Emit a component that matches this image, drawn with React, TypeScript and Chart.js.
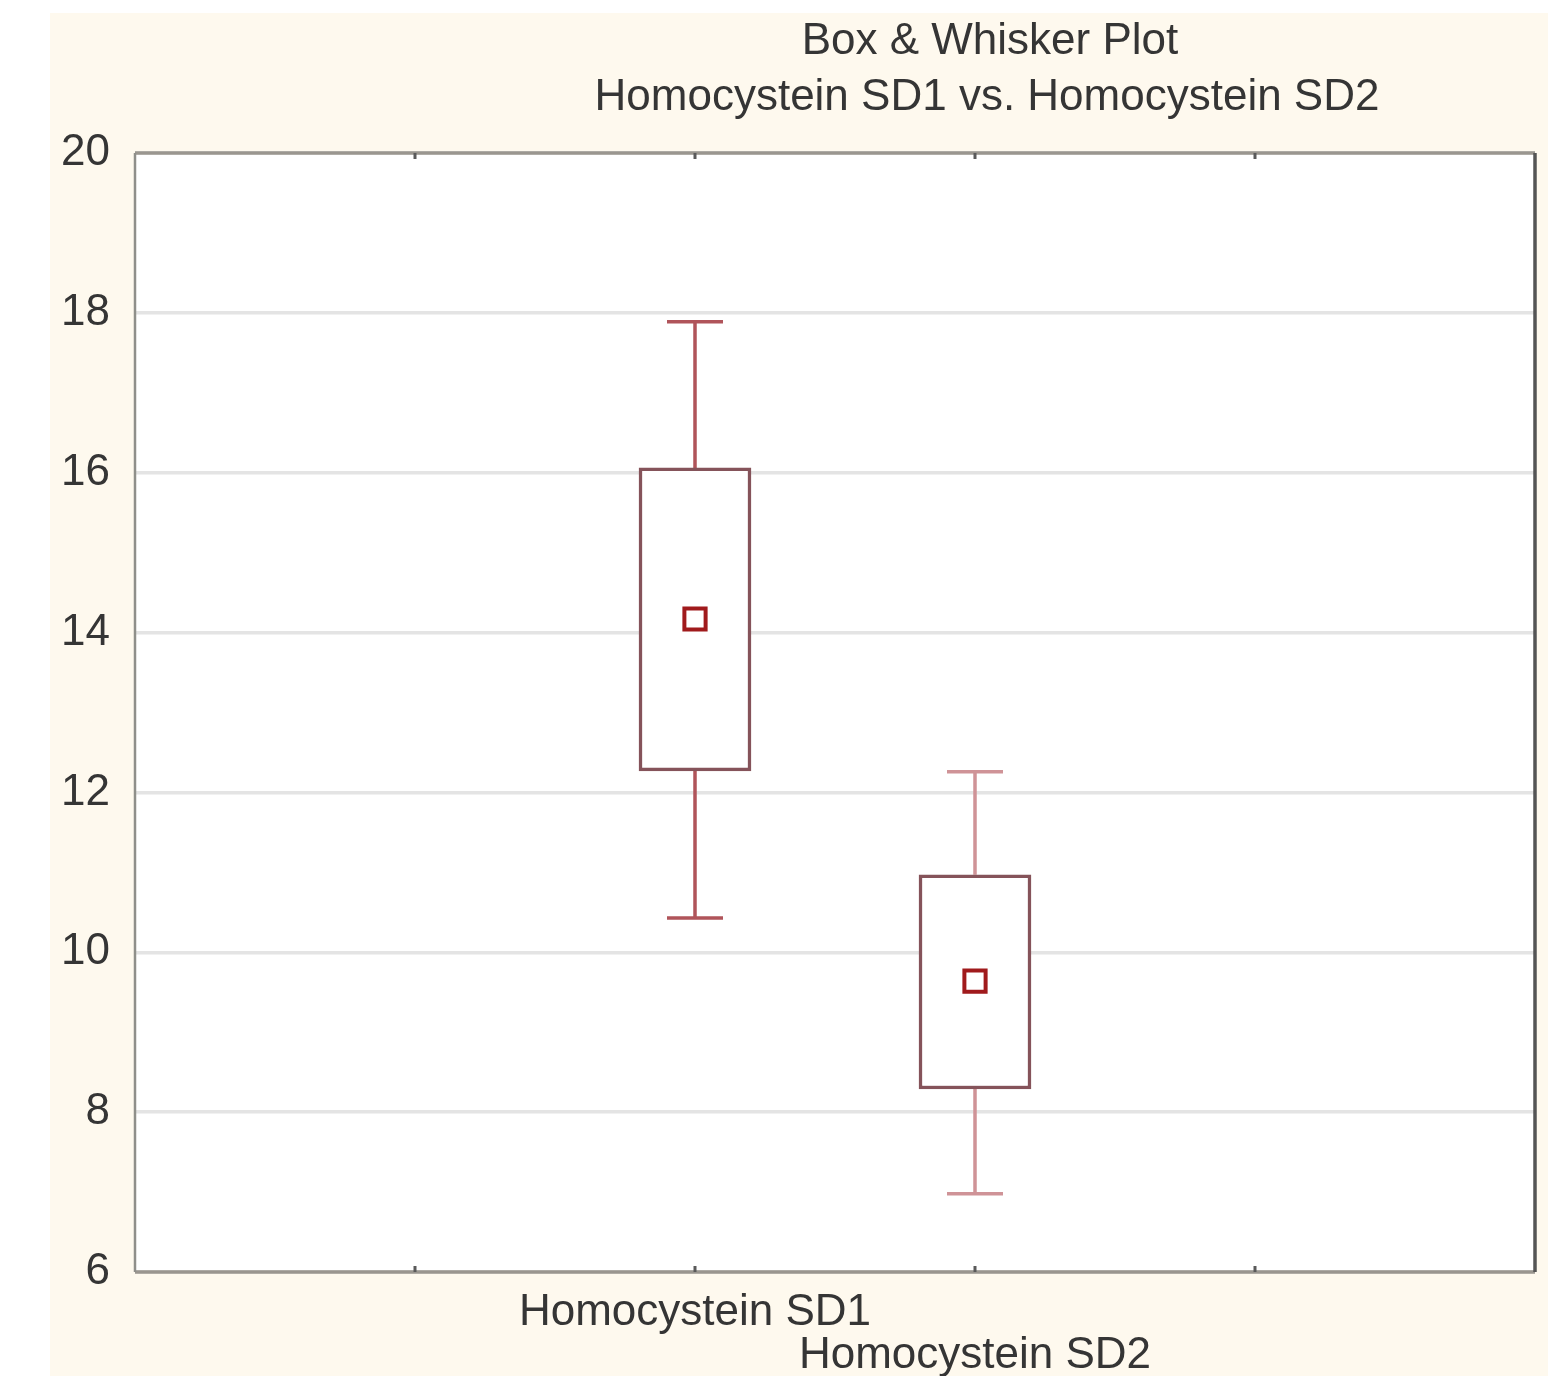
import React, { useEffect, useRef } from 'react';
import { Chart, registerables } from 'chart.js';

Chart.register(...registerables);

// ---- data ----
const categories = ['Homocystein SD1', 'Homocystein SD2'];
const categoryPositions = [2, 3];
const means = [14.17, 9.64];
const boxLow = [12.27, 8.29];
const boxHigh = [16.06, 10.97];
const whiskerLow = [10.43, 6.98];
const whiskerHigh = [17.89, 12.26];
const titleLines = ['Box & Whisker Plot', 'Homocystein SD1 vs. Homocystein SD2'];
const xMin = 0;
const xMax = 5;
const yMin = 6;
const yMax = 20;
const yStep = 2;

// ---- styles ----
const FONT = '"Liberation Sans", Arial, sans-serif';
const FONT_SIZE = 44;
const CREAM = '#fef9ee';
const TEXT = '#353535';
const whiskerColors = ['#b0545a', '#cf9397'];

const decorPlugin = {
  id: 'decor',
  beforeDraw(chart: any) {
    const { ctx, width, height, chartArea } = chart;
    ctx.save();
    ctx.fillStyle = '#ffffff';
    ctx.fillRect(0, 0, width, height);
    ctx.fillStyle = CREAM;
    ctx.fillRect(50, 13, 1498, height - 13);
    ctx.fillStyle = '#ffffff';
    ctx.fillRect(chartArea.left, chartArea.top, chartArea.right - chartArea.left, chartArea.bottom - chartArea.top);
    // title
    ctx.fillStyle = TEXT;
    ctx.font = `${FONT_SIZE}px ${FONT}`;
    ctx.textAlign = 'center';
    ctx.textBaseline = 'middle';
    ctx.fillText(titleLines[0], 990, 42);
    ctx.fillText(titleLines[1], 987, 98);
    ctx.restore();
  },
  beforeDatasetsDraw(chart: any) {
    const { ctx } = chart;
    const xs = chart.scales.x;
    const ys = chart.scales.y;
    ctx.save();
    ctx.lineWidth = 3.5;
    categoryPositions.forEach((pos, i) => {
      const x = xs.getPixelForValue(pos);
      const capHalf = 28;
      ctx.strokeStyle = whiskerColors[i];
      const yTop = ys.getPixelForValue(whiskerHigh[i]);
      const yBoxTop = ys.getPixelForValue(boxHigh[i]);
      const yBoxBot = ys.getPixelForValue(boxLow[i]);
      const yBot = ys.getPixelForValue(whiskerLow[i]);
      ctx.beginPath();
      ctx.moveTo(x, yTop);
      ctx.lineTo(x, yBoxTop);
      ctx.moveTo(x - capHalf, yTop);
      ctx.lineTo(x + capHalf, yTop);
      ctx.moveTo(x, yBoxBot);
      ctx.lineTo(x, yBot);
      ctx.moveTo(x - capHalf, yBot);
      ctx.lineTo(x + capHalf, yBot);
      ctx.stroke();
    });
    ctx.restore();
  },
  afterDraw(chart: any) {
    const { ctx, chartArea } = chart;
    const { left, right, top, bottom } = chartArea;
    const xs = chart.scales.x;
    ctx.save();
    // frame
    ctx.lineWidth = 3.5;
    ctx.strokeStyle = '#9a968f';
    ctx.beginPath();
    ctx.moveTo(left, top);
    ctx.lineTo(right, top);
    ctx.moveTo(left, bottom);
    ctx.lineTo(right, bottom);
    ctx.stroke();
    ctx.lineWidth = 2.5;
    ctx.strokeStyle = '#8f8f8a';
    ctx.beginPath();
    ctx.moveTo(left, top);
    ctx.lineTo(left, bottom);
    ctx.stroke();
    ctx.lineWidth = 3.5;
    ctx.strokeStyle = '#555555';
    ctx.beginPath();
    ctx.moveTo(right, top);
    ctx.lineTo(right, bottom);
    ctx.stroke();
    // inner x tick marks
    ctx.lineWidth = 3;
    ctx.strokeStyle = '#5a5a5a';
    for (let v = xMin + 1; v < xMax; v++) {
      const x = xs.getPixelForValue(v);
      ctx.beginPath();
      ctx.moveTo(x, top);
      ctx.lineTo(x, top + 6);
      ctx.moveTo(x, bottom);
      ctx.lineTo(x, bottom - 6);
      ctx.stroke();
    }
    ctx.restore();
  },
};

export default function App() {
  const ref = useRef<HTMLCanvasElement | null>(null);
  useEffect(() => {
    document.body.style.margin = '0';
    const canvas = ref.current;
    if (!canvas) return;
    const chart = new Chart(canvas, {
      type: 'bar',
      data: {
        datasets: [
          {
            type: 'scatter',
            data: categoryPositions.map((x, i) => ({ x, y: means[i] })),
            pointStyle: 'rect',
            pointRadius: 15,
            pointBorderWidth: 4,
            pointBorderColor: '#a01a1c',
            pointBackgroundColor: '#ffffff',
            order: 1,
          } as any,
          {
            type: 'bar',
            data: categoryPositions.map((x, i) => ({ x, y: [boxLow[i], boxHigh[i]] })),
            backgroundColor: '#ffffff',
            borderColor: '#85535a',
            borderWidth: 3.5,
            borderSkipped: false,
            barThickness: 112,
            order: 2,
          } as any,
        ],
      },
      options: {
        animation: false,
        responsive: false,
        devicePixelRatio: 1,
        layout: { padding: { top: 153, right: 19, bottom: 0, left: 0 } },
        plugins: {
          legend: { display: false },
          title: { display: false },
          tooltip: { enabled: false },
        },
        scales: {
          x: {
            type: 'linear',
            min: xMin,
            max: xMax,
            offset: false,
            grid: { display: false, drawTicks: false },
            border: { display: false },
            afterFit: (scale: any) => {
              scale.height = 104;
            },
            ticks: {
              stepSize: 1,
              autoSkip: false,
              maxRotation: 0,
              minRotation: 0,
              padding: 19,
              color: TEXT,
              font: { family: FONT, size: FONT_SIZE, lineHeight: 0.98 },
              callback: (v: any) => {
                const i = categoryPositions.indexOf(Number(v));
                if (i < 0) return '';
                return i % 2 === 1 ? ['', categories[i]] : categories[i];
              },
            },
          },
          y: {
            type: 'linear',
            min: yMin,
            max: yMax,
            grid: { color: '#e4e4e4', lineWidth: 3.5, drawTicks: false },
            border: { display: false },
            afterFit: (scale: any) => {
              scale.width = 135;
            },
            ticks: {
              stepSize: yStep,
              padding: 25,
              color: TEXT,
              font: { family: FONT, size: FONT_SIZE },
            },
          },
        },
      } as any,
      plugins: [decorPlugin],
    });
    return () => chart.destroy();
  }, []);
  return (
    <div style={{ position: 'absolute', left: 0, top: 0 }}>
      <canvas ref={ref} width={1554} height={1376} style={{ display: 'block' }} />
    </div>
  );
}
